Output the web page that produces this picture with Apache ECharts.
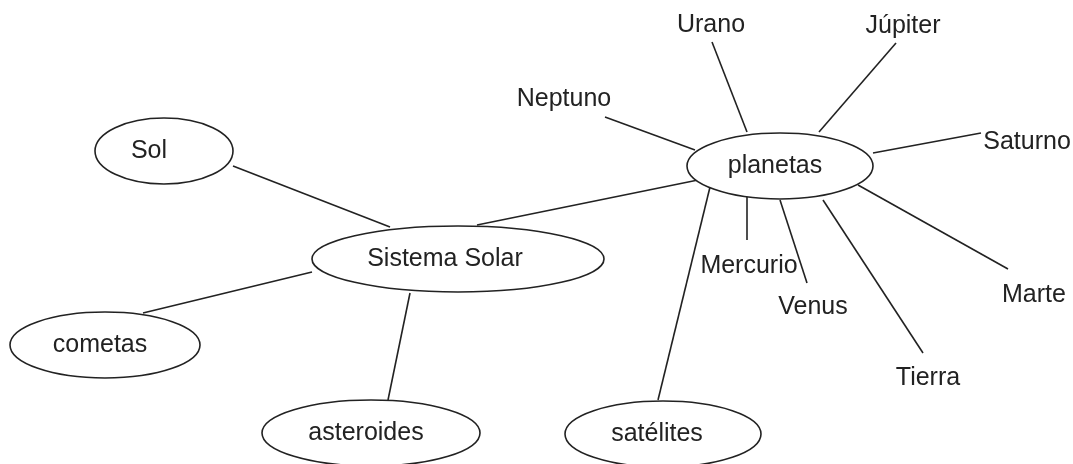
<!DOCTYPE html>
<html>
<head>
<meta charset="utf-8">
<title>Sistema Solar</title>
<script src="https://cdn.jsdelivr.net/npm/echarts@6/dist/echarts.min.js"></script>
<style>
  html, body { margin: 0; padding: 0; background: #fff; }
  #chart { width: 1073px; height: 464px; }
</style>
</head>
<body>
<div id="chart"></div>
<script>
// óvalos del mapa: centro, radios y posición del texto
const ovalNames = ['Sol', 'Sistema Solar', 'cometas', 'asteroides', 'satélites', 'planetas']
const ovalX = [164, 458, 105, 371, 663, 780]
const ovalY = [151, 259, 345, 433, 434, 166]
const ovalRx = [69, 146, 95, 109, 98, 93]
const ovalRy = [33, 33, 33, 33, 33, 33]
const ovalTextX = [149, 445, 100, 366, 657, 775]

// nombres sueltos alrededor de "planetas"
const planetNames = ['Urano', 'Júpiter', 'Neptuno', 'Saturno', 'Mercurio', 'Venus', 'Tierra', 'Marte']
const planetX = [711, 903, 564, 1027, 749, 813, 928, 1034]
const planetY = [25, 26, 99, 142, 266, 307, 378, 295]

// trazos [x1, y1, x2, y2]
const links = [
  [233, 166, 390, 227],  // Sol - Sistema Solar
  [477, 225, 698, 180],  // Sistema Solar - planetas
  [143, 313, 312, 272],  // cometas
  [410, 293, 388, 400],  // asteroides
  [658, 400, 710, 187],  // satélites
  [605, 117, 695, 150],  // Neptuno
  [712, 42, 747, 132],   // Urano
  [896, 43, 819, 132],   // Júpiter
  [981, 133, 873, 153],  // Saturno
  [747, 193, 747, 240],  // Mercurio
  [780, 200, 807, 283],  // Venus
  [823, 200, 923, 353],  // Tierra
  [858, 185, 1008, 269]  // Marte
]

const FONT = '25px "Liberation Sans", Arial, sans-serif'
const INK = '#222'

let chart = echarts.init(document.getElementById('chart'))

let ovalData = ovalNames.map((name, i) => [ovalX[i], ovalY[i], ovalRx[i], ovalRy[i], ovalTextX[i], name])
let planetData = planetNames.map((name, i) => [planetX[i], planetY[i], name])
let linkData = links.map(l => ({ coords: [[l[0], l[1]], [l[2], l[3]]] }))

chart.setOption({
  animation: false,
  backgroundColor: '#fff',
  grid: { left: 0, right: 0, top: 0, bottom: 0 },
  xAxis: { type: 'value', min: 0, max: 1073, show: false },
  yAxis: { type: 'value', min: 0, max: 464, inverse: true, show: false },
  series: [{
    type: 'lines',
    coordinateSystem: 'cartesian2d',
    silent: true,
    lineStyle: { color: INK, width: 1.6, opacity: 1 },
    data: linkData
  }, {
    type: 'custom',
    coordinateSystem: 'cartesian2d',
    silent: true,
    clip: false,
    data: ovalData,
    renderItem: function(params, api) {
      let c = api.coord([api.value(0), api.value(1)])
      let s = api.size([api.value(2), api.value(3)])
      let t = api.coord([api.value(4), api.value(1)])
      return {
        type: 'group',
        children: [{
          type: 'ellipse',
          shape: { cx: c[0], cy: c[1], rx: Math.abs(s[0]), ry: Math.abs(s[1]) },
          style: { fill: '#fff', stroke: INK, lineWidth: 1.6 }
        }, {
          type: 'text',
          x: t[0],
          y: t[1],
          style: {
            text: ovalData[params.dataIndex][5],
            font: FONT,
            fill: INK,
            align: 'center',
            verticalAlign: 'middle'
          }
        }]
      }
    }
  }, {
    type: 'custom',
    coordinateSystem: 'cartesian2d',
    silent: true,
    clip: false,
    data: planetData,
    renderItem: function(params, api) {
      let p = api.coord([api.value(0), api.value(1)])
      return {
        type: 'text',
        x: p[0],
        y: p[1],
        style: {
          text: planetData[params.dataIndex][2],
          font: FONT,
          fill: INK,
          align: 'center',
          verticalAlign: 'middle'
        }
      }
    }
  }]
})
</script>
</body>
</html>
